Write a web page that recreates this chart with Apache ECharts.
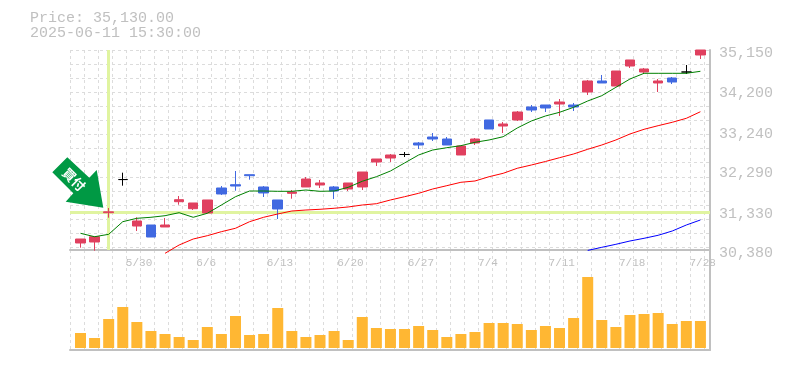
<!DOCTYPE html>
<html><head><meta charset="utf-8">
<style>html,body{margin:0;padding:0;background:#fff}#c{width:785px;height:370px}</style>
<script src="https://cdn.jsdelivr.net/npm/echarts@6/dist/echarts.min.js"></script>
</head><body><div id="c"></div>
<script>
const titleLines = ['Price: 35,130.00', '2025-06-11 15:30:00'];
const dateLabels = ['5/30','6/6','6/13','6/20','6/27','7/4','7/11','7/18','7/28'];
const dateIndex = [4,9,14,19,24,29,34,39,44];
const priceTicks = [35150,34200,33240,32290,31330,30380];
const opens = [30547,30571,31270,32060,30952,30976,30929,31532,31365,31262,31859,31937,32176,31883,31573,31732,31883,31930,31883,31835,31883,32479,32574,32658,32932,33075,33027,32646,32932,33481,33337,33481,33791,33838,33862,33838,34148,34411,34291,34768,34625,34363,34482,34625,35031];
const closes = [30642,30697,31290,32060,31072,30690,30976,31580,31501,31573,31716,31906,32152,31740,31358,31763,32073,31978,31787,31978,32240,32550,32646,32658,32884,33027,32884,32860,33027,33266,33385,33671,33719,33767,33910,33791,34411,34363,34649,34912,34697,34411,34387,34625,35150];
const lows = [30435,30363,31150,31914,30833,30690,30929,31460,31334,31262,31692,31794,32057,31644,31119,31604,31883,31859,31596,31787,31811,32383,32479,32598,32789,32980,32884,32646,32884,33266,33170,33457,33671,33671,33576,33695,34077,34363,34291,34721,34578,34148,34339,34578,34935];
const highs = [30642,30697,31382,32224,31160,30976,31143,31668,31501,31573,31906,32264,32176,31906,31573,31811,32121,32050,31906,31978,32240,32550,32670,32717,32956,33170,33075,32860,33051,33481,33433,33695,33838,33838,33981,33886,34435,34554,34649,34912,34721,34458,34506,34792,35150];
const candleKind = ['r','r','r','k','r','b','r','r','r','r','b','b','b','b','b','r','r','r','b','r','r','r','r','k','b','b','b','r','r','b','r','r','b','b','r','b','r','b','r','r','r','r','b','k','r'];
const maShort = [30778,30697,30754,31055,31136,31160,31198,31270,31160,31255,31453,31651,31787,31787,31780,31780,31811,31780,31787,31875,32019,32128,32264,32455,32646,32765,32820,32868,32949,33004,33082,33290,33457,33576,33664,33783,33934,34060,34260,34458,34594,34594,34594,34594,34642];
const maMid = [null,null,null,null,null,null,30301,30499,30642,30721,30817,30898,31055,31160,31239,31310,31334,31351,31375,31406,31453,31484,31573,31651,31732,31835,31914,31995,32026,32128,32209,32329,32407,32491,32581,32670,32782,32884,33004,33147,33259,33345,33426,33521,33678];
const maLong = [null,null,null,null,null,null,null,null,null,null,null,null,null,null,null,null,null,null,null,null,null,null,null,null,null,null,null,null,null,null,null,null,null,null,null,null,30370,30444,30516,30595,30659,30731,30833,30976,31096];
const volumes = [15,10,29,41,26,17,14,11,8,21,14,32,13,14,40,17,11,13,17,8,31,20,19,19,22,18,11,14,16,25,25,24,18,22,20,30,71,28,21,33,34,35,24,27,27];

const RED='#e0405f', BLUE='#4169e1', BLACK='#000000', FRAME='#c0c0c0', GRID='#dcdcdc', HILITE='#e0f4a0', MONO='"Liberation Mono",monospace';
const colorOf = {r:RED,b:BLUE,k:BLACK};
const candleData = opens.map((o,i)=>{
  const c = colorOf[candleKind[i]];
  return {value:[i,o,closes[i],lows[i],highs[i]],itemStyle:{color:c,color0:c,borderColor:c,borderColor0:c,borderWidth:1}};
});
const line=(i,d,c)=>({type:'line',xAxisIndex:0,yAxisIndex:0,data:d.map((v,k)=>[k,v]),showSymbol:false,symbol:'none',clip:false,z:3,silent:true,lineStyle:{color:c,width:1},connectNulls:false});
const xMin=-0.745, xMax=44.68, gridCount=45.43;
const dash={type:[3,3],color:GRID,width:1};

const option={
  animation:false,
  backgroundColor:'#fff',
  title:{text:titleLines.join('\n'),left:25,top:6,textStyle:{fontFamily:MONO,fontSize:15,fontWeight:'normal',color:FRAME,lineHeight:15}},
  grid:[{left:70,right:75,top:50,height:200},{left:70,right:75,top:250,height:100}],
  xAxis:[
    {type:'value',gridIndex:0,min:xMin,max:xMax,splitLine:{show:false},axisTick:{show:false},
     axisLine:{show:true,onZero:false,lineStyle:{color:FRAME,width:2}},
     axisLabel:{show:true,customValues:dateIndex.map(i=>i-0.78),align:'left',margin:8,fontFamily:MONO,fontSize:11,color:FRAME,hideOverlap:false,showMinLabel:true,showMaxLabel:true,
       formatter:v=>{const k=dateIndex.findIndex(i=>Math.abs(i-0.78-v)<1e-6);return k<0?'':dateLabels[k];}}},
    {type:'value',gridIndex:0,position:'top',min:0,max:gridCount,interval:1,axisLine:{show:false,onZero:false},axisTick:{show:false},axisLabel:{show:false},splitLine:{show:true,lineStyle:dash}},
    {type:'value',gridIndex:1,min:xMin,max:xMax,splitLine:{show:false},axisTick:{show:false},axisLabel:{show:false},
     axisLine:{show:true,onZero:false,lineStyle:{color:FRAME,width:2}}},
    {type:'value',gridIndex:1,position:'top',min:0,max:gridCount,interval:1,axisLine:{show:false,onZero:false},axisTick:{show:false},axisLabel:{show:false},splitLine:{show:true,lineStyle:dash}}
  ],
  yAxis:[
    {type:'value',gridIndex:0,position:'right',min:30380,max:35150,splitLine:{show:false},axisTick:{show:false},
     axisLine:{show:true,onZero:false,lineStyle:{color:FRAME,width:2}},
     axisLabel:{customValues:priceTicks,margin:9,verticalAlign:'top',lineHeight:7,fontFamily:MONO,fontSize:15,color:FRAME,showMinLabel:true,showMaxLabel:true,
       formatter:v=>String(v).replace(/(\d)(\d{3})$/,'$1,$2')}},
    {type:'value',gridIndex:0,position:'left',inverse:true,min:0,max:14.2,interval:1,axisLine:{show:false,onZero:false},axisTick:{show:false},axisLabel:{show:false},splitLine:{show:true,lineStyle:dash}},
    {type:'value',gridIndex:1,position:'right',min:-2,max:98,axisLabel:{show:false},axisTick:{show:false},splitLine:{show:false},axisLine:{show:true,onZero:false,lineStyle:{color:FRAME,width:2}}}
  ],
  series:[
    {type:'line',xAxisIndex:0,yAxisIndex:0,data:[],silent:true,z:1,
     markLine:{silent:true,symbol:'none',z:1,label:{show:false},lineStyle:{color:HILITE,width:3,type:'solid'},
       data:[{xAxis:dateIndex[0]-2},{yAxis:closes[2]}]}},
    {type:'candlestick',xAxisIndex:0,yAxisIndex:0,barWidth:10,z:2,silent:true,encode:{x:0,y:[1,2,3,4]},data:candleData},
    line(0,maShort,'#008000'),
    line(1,maMid,'#ff0000'),
    line(2,maLong,'#0000ff'),
    {type:'bar',xAxisIndex:2,yAxisIndex:2,barWidth:11,silent:true,z:2,itemStyle:{color:'#ffb733'},data:volumes.map((v,i)=>[i,v])}
  ],
  graphic:[
    {type:'polygon',z:20,silent:true,shape:{points:[[67.3,157.3],[52.3,172.3],[73.3,193.3],[65.7,201.7],[103.3,207.7],[96.7,170],[89.3,177.7]]},style:{fill:'#009944'}},
    {type:'text',z:21,silent:true,x:74,y:179.5,rotation:-Math.PI/4,style:{text:'買付',fill:'#fff',font:'bold 13px "Noto Sans CJK JP"',align:'center',verticalAlign:'middle'}}
  ]
};
echarts.init(document.getElementById('c'),null,{renderer:'canvas'}).setOption(option);
</script></body></html>
